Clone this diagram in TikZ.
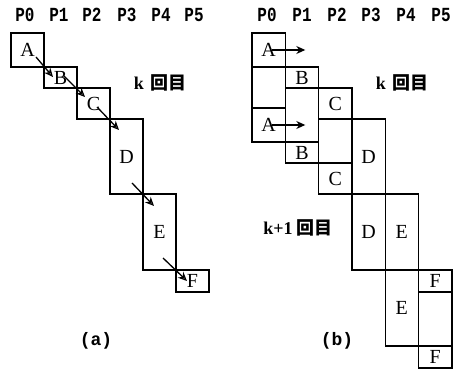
\documentclass[tikz,border=0pt]{standalone}
\usepackage{fontspec}
\setmainfont{Liberation Serif}
\newfontfamily\procfont[FakeStretch=0.8]{Liberation Mono}
\newfontfamily\capfont{Liberation Mono}
\newfontfamily\cjk{Noto Sans CJK JP}
\usetikzlibrary{arrows.meta,calc}

\tikzset{
  task/.style={draw, line width=1.4pt, inner sep=0pt, outer sep=0pt,
    anchor=north west, font=\fontsize{20}{20}\selectfont},
  proc/.style={font=\procfont\bfseries\fontsize{20}{20}\selectfont, inner sep=0pt},
  subcap/.style={font=\capfont\bfseries\fontsize{18}{18}\selectfont, inner sep=0pt},
  iter/.style={font=\bfseries\fontsize{18}{18}\selectfont, inner sep=0pt},
  hand/.style={line width=1.3pt, -{Stealth[open,length=9pt,width=8pt]}},
  pass/.style={line width=1.3pt, -{Stealth[length=9pt,width=8pt]}}
}

\begin{document}
\begin{tikzpicture}[x=1pt,y=-1pt]
\useasboundingbox (0,0) rectangle (458,371);

% ---------- (a): one pass through the pipeline ----------
\foreach \i/\x in {0/25,1/59,2/92,3/127,4/161,5/194}
  \node[proc] (pa\i) at (\x,15) {P\i};

\node[task, minimum width=33pt, minimum height=34pt] (A) at (11,33)  {A};
\node[task, minimum width=33pt, minimum height=21pt] (B) at (44,67)  {B};
\node[task, minimum width=33pt, minimum height=31pt] (C) at (77,88)  {C};
\node[task, minimum width=33pt, minimum height=75pt] (D) at (110,119) {D};
\node[task, minimum width=33pt, minimum height=76pt] (E) at (143,194) {E};
\node[task, minimum width=33pt, minimum height=22pt] (F) at (176,270) {F};

\draw[hand] ($(A.south east)+(-8,-10)$) -- ($(B.north west)+(9,10)$);
\draw[hand] ($(B.south east)+(-13,-12)$) -- ($(C.north west)+(8,9)$);
\draw[hand] ($(C.south east)+(-13,-12)$) -- ($(D.north west)+(9,11)$);
\draw[hand] ($(D.south east)+(-11,-11)$) -- ($(E.north west)+(11,12)$);
\draw[hand] ($(E.south east)+(-13,-12)$) -- ($(F.north west)+(11,11)$);

\node[iter] (ka) at (160,83) {k\hspace{6pt}{\cjk 回目}};
\node[subcap] (capa) at (96,341) {(a)};

% ---------- (b): two passes overlapped ----------
\foreach \i/\x in {0/267,1/302,2/337,3/371,4/406,5/441}
  \node[proc] (pb\i) at (\x,15) {P\i};

\node[task, minimum width=33.3pt, minimum height=34pt] (A1) at (252,33)  {A};
\node[task, minimum width=33.3pt, minimum height=41pt] (w0) at (252,67)  {};
\node[task, minimum width=33.3pt, minimum height=34pt] (A2) at (252,108) {A};

\node[task, minimum width=33.3pt, minimum height=21pt] (B1) at (285.3,67)  {B};
\node[task, minimum width=33.3pt, minimum height=54pt] (w1) at (285.3,88)  {};
\node[task, minimum width=33.3pt, minimum height=21pt] (B2) at (285.3,142) {B};

\node[task, minimum width=33.3pt, minimum height=31pt] (C1) at (318.6,88)  {C};
\node[task, minimum width=33.3pt, minimum height=44pt] (w2) at (318.6,119) {};
\node[task, minimum width=33.3pt, minimum height=31pt] (C2) at (318.6,163) {C};

\node[task, minimum width=33.3pt, minimum height=75pt] (D1) at (351.9,119) {D};
\node[task, minimum width=33.3pt, minimum height=76pt] (D2) at (351.9,194) {D};

\node[task, minimum width=33.3pt, minimum height=76pt] (E1) at (385.2,194) {E};
\node[task, minimum width=33.3pt, minimum height=76pt] (E2) at (385.2,270) {E};

\node[task, minimum width=33.3pt, minimum height=22pt] (F1) at (418.5,270) {F};
\node[task, minimum width=33.3pt, minimum height=54pt] (w5) at (418.5,292) {};
\node[task, minimum width=33.3pt, minimum height=22pt] (F2) at (418.5,346) {F};

\coordinate (s1) at ($(A1.east)+(20,0)$);
\coordinate (s2) at ($(A2.east)+(20,0)$);
\draw[pass] ($(A1.center)+(3,0)$) -- (s1);
\draw[pass] ($(A2.center)+(3,0)$) -- (s2);

\node[iter] (kb)  at (402,83)  {k\hspace{6pt}{\cjk 回目}};
\node[iter] (kb1) at (298,228) {k+1\hspace{4pt}{\cjk 回目}};
\node[subcap] (capb) at (337,341) {(b)};
\end{tikzpicture}
\end{document}
